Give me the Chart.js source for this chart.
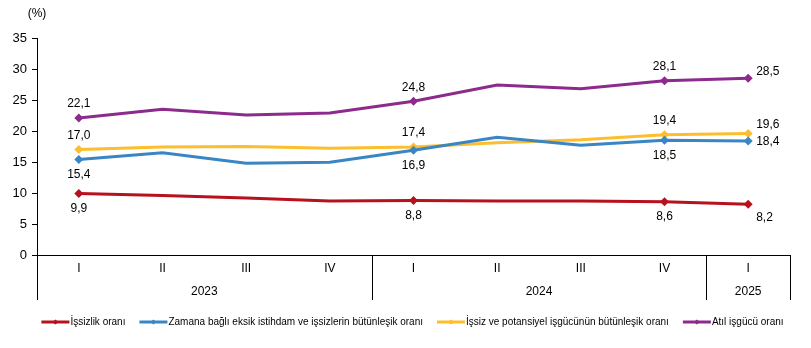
<!DOCTYPE html>
<html>
<head>
<meta charset="utf-8">
<script src="https://cdn.jsdelivr.net/npm/chart.js@4/dist/chart.umd.min.js"></script>
<style>
  html, body { margin: 0; padding: 0; background: #ffffff; }
  #wrap { width: 811px; height: 348px; }
</style>
</head>
<body>
<div id="wrap"><canvas id="rateChart" width="811" height="348"></canvas></div>
<script>
const quarters = ['I', 'II', 'III', 'IV', 'I', 'II', 'III', 'IV', 'I'];
const years = [
  { label: '2023', from: 0, to: 3 },
  { label: '2024', from: 4, to: 7 },
  { label: '2025', from: 8, to: 8 }
];
const yTicks = [0, 5, 10, 15, 20, 25, 30, 35];

const issizlik = [9.9, 9.6, 9.2, 8.7, 8.8, 8.7, 8.7, 8.6, 8.2];
const zamanaBagli = [15.4, 16.5, 14.8, 14.95, 16.9, 19.0, 17.7, 18.5, 18.4];
const potansiyel = [17.0, 17.4, 17.5, 17.2, 17.4, 18.1, 18.6, 19.4, 19.6];
const atilIsgucu = [22.1, 23.5, 22.6, 22.9, 24.8, 27.4, 26.8, 28.1, 28.5];

// quarters that carry a marker and a value label
const labelled = [0, 4, 7, 8];

const FONT = "'Liberation Sans', Arial, sans-serif";

function markerRadius() {
  return quarters.map((q, i) => labelled.includes(i) ? 4.5 : 0);
}

function series(label, data, color, place) {
  return {
    label: label,
    data: data,
    borderColor: color,
    backgroundColor: color,
    borderWidth: 3,
    pointStyle: 'rectRot',
    pointRadius: markerRadius(),
    pointHoverRadius: markerRadius(),
    pointBorderWidth: 0,
    tension: 0,
    place: place
  };
}

const fmt = v => v.toFixed(1).replace('.', ',');

// value labels: above / below the marker, the last quarter goes to the right
const valueLabels = {
  id: 'valueLabels',
  afterDatasetsDraw(chart) {
    const ctx = chart.ctx;
    ctx.save();
    ctx.font = '12px ' + FONT;
    ctx.fillStyle = '#000000';
    ctx.textBaseline = 'middle';
    chart.data.datasets.forEach((ds, di) => {
      const meta = chart.getDatasetMeta(di);
      labelled.forEach(i => {
        const pt = meta.data[i];
        const txt = fmt(ds.data[i]);
        if (i === quarters.length - 1) {
          ctx.textAlign = 'left';
          ctx.fillText(txt, pt.x + 8, pt.y + ds.place.lastDy);
        } else {
          ctx.textAlign = 'center';
          ctx.fillText(txt, pt.x, pt.y + ds.place.dy);
        }
      });
    });
    ctx.restore();
  }
};

// year row under the quarter labels, with the group separators
const yearGroups = {
  id: 'yearGroups',
  afterDraw(chart) {
    const ctx = chart.ctx;
    const x = chart.scales.x;
    const area = chart.chartArea;
    const half = (x.getPixelForValue(1) - x.getPixelForValue(0)) / 2;
    ctx.save();
    ctx.strokeStyle = '#000000';
    ctx.lineWidth = 1;
    const edges = [area.left];
    years.forEach(y => edges.push(x.getPixelForValue(y.to) + half));
    edges.forEach(ex => {
      const px = Math.round(ex) + 0.5;
      ctx.beginPath();
      ctx.moveTo(px, area.bottom);
      ctx.lineTo(px, area.bottom + 45);
      ctx.stroke();
    });
    ctx.font = '12px ' + FONT;
    ctx.fillStyle = '#000000';
    ctx.textAlign = 'center';
    ctx.textBaseline = 'middle';
    years.forEach(y => {
      const cx = (x.getPixelForValue(y.from) + x.getPixelForValue(y.to)) / 2;
      ctx.fillText(y.label, cx, area.bottom + 37);
    });
    // unit over the value axis
    ctx.fillText('(%)', area.left, 14);
    ctx.restore();
  }
};

// legend: short line with a small diamond, then the name
const lineLegend = {
  id: 'lineLegend',
  afterDraw(chart) {
    const ctx = chart.ctx;
    const lineW = 28, gapText = 1, gapItem = 14, y = 322;
    ctx.save();
    ctx.font = '10px ' + FONT;
    ctx.textBaseline = 'middle';
    ctx.textAlign = 'left';
    const items = chart.data.datasets.map(ds => ({
      ds: ds, w: lineW + gapText + ctx.measureText(ds.label).width
    }));
    const total = items.reduce((s, it) => s + it.w, 0) + gapItem * (items.length - 1);
    let cx = (chart.width - total) / 2 + 7;
    items.forEach(it => {
      ctx.strokeStyle = it.ds.borderColor;
      ctx.lineWidth = 3;
      ctx.beginPath();
      ctx.moveTo(cx, y);
      ctx.lineTo(cx + lineW, y);
      ctx.stroke();
      ctx.fillStyle = it.ds.borderColor;
      ctx.beginPath();
      ctx.moveTo(cx + lineW / 2 - 3, y);
      ctx.lineTo(cx + lineW / 2, y - 2.5);
      ctx.lineTo(cx + lineW / 2 + 3, y);
      ctx.lineTo(cx + lineW / 2, y + 2.5);
      ctx.closePath();
      ctx.fill();
      ctx.fillStyle = '#000000';
      ctx.fillText(it.ds.label, cx + lineW + gapText, y);
      cx += it.w + gapItem;
    });
    ctx.restore();
  }
};

new Chart(document.getElementById('rateChart'), {
  type: 'line',
  data: {
    labels: quarters,
    datasets: [
      series('İşsizlik oranı', issizlik, '#B8111E', { dy: 15, lastDy: 14 }),
      series('Zamana bağlı eksik istihdam ve işsizlerin bütünleşik oranı', zamanaBagli, '#3A86C5', { dy: 15, lastDy: 1 }),
      series('İşsiz ve potansiyel işgücünün bütünleşik oranı', potansiyel, '#FDBE2D', { dy: -14, lastDy: -9 }),
      series('Atıl işgücü oranı', atilIsgucu, '#8C2B8C', { dy: -14, lastDy: -7 })
    ]
  },
  options: {
    responsive: false,
    animation: false,
    layout: { padding: { top: 38, right: 21, bottom: 50, left: 0 } },
    plugins: {
      legend: { display: false },
      tooltip: { enabled: false }
    },
    scales: {
      x: {
        offset: true,
        grid: { display: false },
        border: { display: true, color: '#000000', width: 1 },
        ticks: { font: { family: FONT, size: 12 }, color: '#000000', padding: -2, maxRotation: 0 },
        afterFit(scale) { scale.height = 43; }
      },
      y: {
        min: 0,
        max: 35,
        afterBuildTicks(scale) { scale.ticks = yTicks.map(v => ({ value: v })); },
        grid: { drawOnChartArea: false, drawTicks: true, tickLength: 5, color: '#000000' },
        border: { display: true, color: '#000000', width: 1 },
        ticks: { font: { family: FONT, size: 13 }, color: '#000000', padding: 5 },
        afterFit(scale) { scale.width = 37; }
      }
    }
  },
  plugins: [valueLabels, yearGroups, lineLegend]
});
</script>
</body>
</html>
